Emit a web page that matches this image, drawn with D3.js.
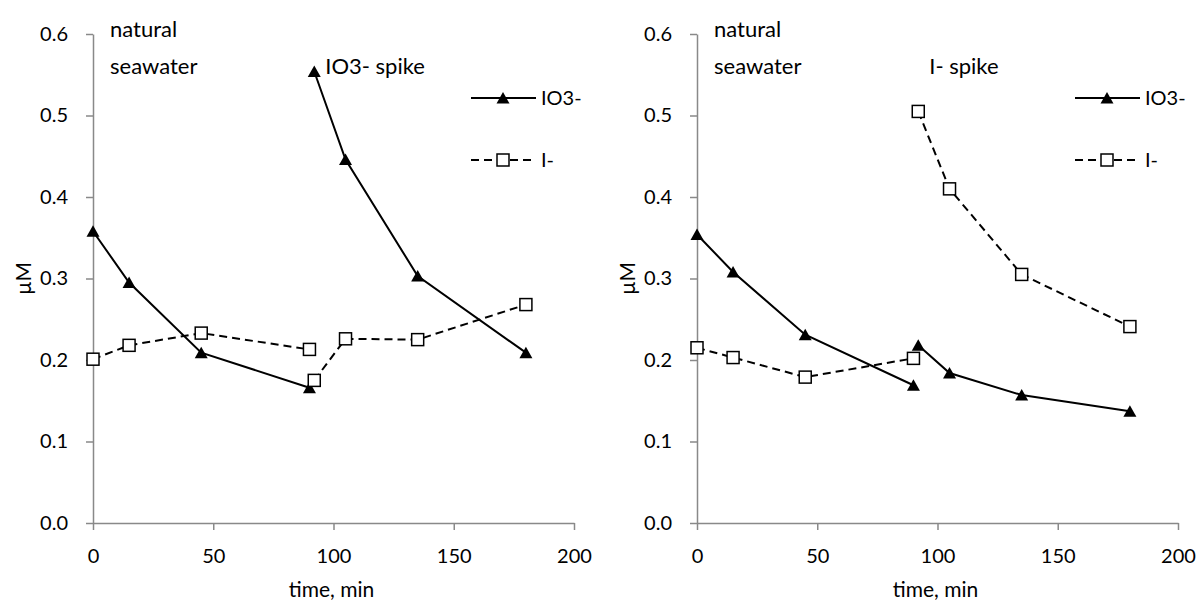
<!DOCTYPE html>
<html>
<head>
<meta charset="utf-8">
<script src="https://cdn.jsdelivr.net/npm/d3@7"></script>
<style>
  body { margin: 0; background: #fff; }
  svg { display: block; font-family: Lato, "Open Sans", sans-serif; }
  .axis path, .axis line { stroke: #898989; stroke-width: 1.5; }
  .axis text { font-size: 20px; fill: #000; font-family: Lato, sans-serif; }
</style>
</head>
<body>
<div id="chart"></div>
<script>
// sampling times (min): natural seawater run, then the spiked run
const timesNatural = [0, 15, 45, 90];
const timesSpike = [92, 105, 135, 180];

// left panel: IO3- spike
const io3LeftNatural = [0.358, 0.295, 0.209, 0.166];
const io3LeftSpike = [0.554, 0.446, 0.303, 0.209];
const iLeftNatural = [0.201, 0.218, 0.233, 0.213];
const iLeftSpike = [0.175, 0.226, 0.225, 0.268];

// right panel: I- spike
const io3RightNatural = [0.354, 0.308, 0.231, 0.169];
const io3RightSpike = [0.218, 0.184, 0.157, 0.137];
const iRightNatural = [0.215, 0.203, 0.179, 0.202];
const iRightSpike = [0.505, 0.410, 0.305, 0.241];

const xTicks = [0, 50, 100, 150, 200];
const yTicks = [0, 0.1, 0.2, 0.3, 0.4, 0.5, 0.6];
const seriesNames = ["IO3-", "I-"];

const width = 1200, height = 601;

const svg = d3.select("#chart")
    .append("svg")
    .attr("width", width)
    .attr("height", height);

const panels = [
    {
        left: 93, spikeLabel: "IO3- spike",
        io3: [io3LeftNatural, io3LeftSpike],
        iod: [iLeftNatural, iLeftSpike]
    },
    {
        left: 697, spikeLabel: "I- spike",
        io3: [io3RightNatural, io3RightSpike],
        iod: [iRightNatural, iRightSpike]
    }
];

const plotW = 481, plotTop = 34, plotBottom = 523;

const triangle = "M0,-6 L6.5,5.5 L-6.5,5.5 Z";

function pairs(times, values) {
    return times.map((t, i) => ({ t: t, v: values[i] }));
}

panels.forEach(p => {
    const x = d3.scaleLinear().domain([0, 200]).range([p.left, p.left + plotW]);
    const y = d3.scaleLinear().domain([0, 0.6]).range([plotBottom, plotTop]);

    const g = svg.append("g");

    g.append("g")
        .attr("class", "axis")
        .attr("transform", `translate(0,${plotBottom})`)
        .call(d3.axisBottom(x).tickValues(xTicks).tickSize(7).tickSizeOuter(0).tickPadding(19));

    g.append("g")
        .attr("class", "axis")
        .attr("transform", `translate(${p.left},0)`)
        .call(d3.axisLeft(y).tickValues(yTicks).tickFormat(d3.format(".1f"))
            .tickSize(7).tickSizeOuter(0).tickPadding(18));

    // axis titles
    g.append("text")
        .attr("x", p.left + plotW / 2 - 2)
        .attr("y", 597)
        .attr("text-anchor", "middle")
        .style("font-size", "21px")
        .text("time, min");

    g.append("text")
        .attr("transform", `translate(${p.left - 62},${y(0.3)}) rotate(-90)`)
        .attr("text-anchor", "middle")
        .style("font-size", "21px")
        .text("µM");

    // annotations
    g.append("text")
        .attr("x", p.left + 17)
        .attr("y", 37)
        .style("font-size", "22px")
        .text("natural");
    g.append("text")
        .attr("x", p.left + 17)
        .attr("y", 74)
        .style("font-size", "22px")
        .text("seawater");
    g.append("text")
        .attr("x", x(92) + 11)
        .attr("y", 74)
        .style("font-size", "22px")
        .text(p.spikeLabel);

    const line = d3.line().x(d => x(d.t)).y(d => y(d.v));
    const times = [timesNatural, timesSpike];

    // IO3- : solid line with filled triangles
    p.io3.forEach((vals, k) => {
        const pts = pairs(times[k], vals);
        g.append("path")
            .datum(pts)
            .attr("fill", "none")
            .attr("stroke", "#000")
            .attr("stroke-width", 2)
            .attr("d", line);
        g.selectAll(null)
            .data(pts)
            .enter()
            .append("path")
            .attr("d", triangle)
            .attr("transform", d => `translate(${x(d.t)},${y(d.v)})`)
            .attr("fill", "#000");
    });

    // I- : dashed line with open squares
    p.iod.forEach((vals, k) => {
        const pts = pairs(times[k], vals);
        g.append("path")
            .datum(pts)
            .attr("fill", "none")
            .attr("stroke", "#000")
            .attr("stroke-width", 2)
            .attr("stroke-dasharray", "8,5")
            .attr("d", line);
        g.selectAll(null)
            .data(pts)
            .enter()
            .append("rect")
            .attr("x", d => x(d.t) - 6)
            .attr("y", d => y(d.v) - 6)
            .attr("width", 12)
            .attr("height", 12)
            .attr("fill", "#fff")
            .attr("stroke", "#000")
            .attr("stroke-width", 1.5);
    });

    // legend
    const lx = p.left + 378;
    const legend = g.append("g");
    [98, 160].forEach((ly, k) => {
        legend.append("line")
            .attr("x1", lx).attr("x2", lx + 65)
            .attr("y1", ly).attr("y2", ly)
            .attr("stroke", "#000")
            .attr("stroke-width", 2)
            .attr("stroke-dasharray", k === 1 ? "8,5" : null);
        if (k === 0) {
            legend.append("path")
                .attr("d", triangle)
                .attr("transform", `translate(${lx + 32},${ly})`)
                .attr("fill", "#000");
        } else {
            legend.append("rect")
                .attr("x", lx + 26).attr("y", ly - 6)
                .attr("width", 12).attr("height", 12)
                .attr("fill", "#fff")
                .attr("stroke", "#000")
                .attr("stroke-width", 1.5);
        }
        legend.append("text")
            .attr("x", lx + 70)
            .attr("y", ly)
            .attr("dy", "0.35em")
            .style("font-size", "20px")
            .text(seriesNames[k]);
    });
});
</script>
</body>
</html>
